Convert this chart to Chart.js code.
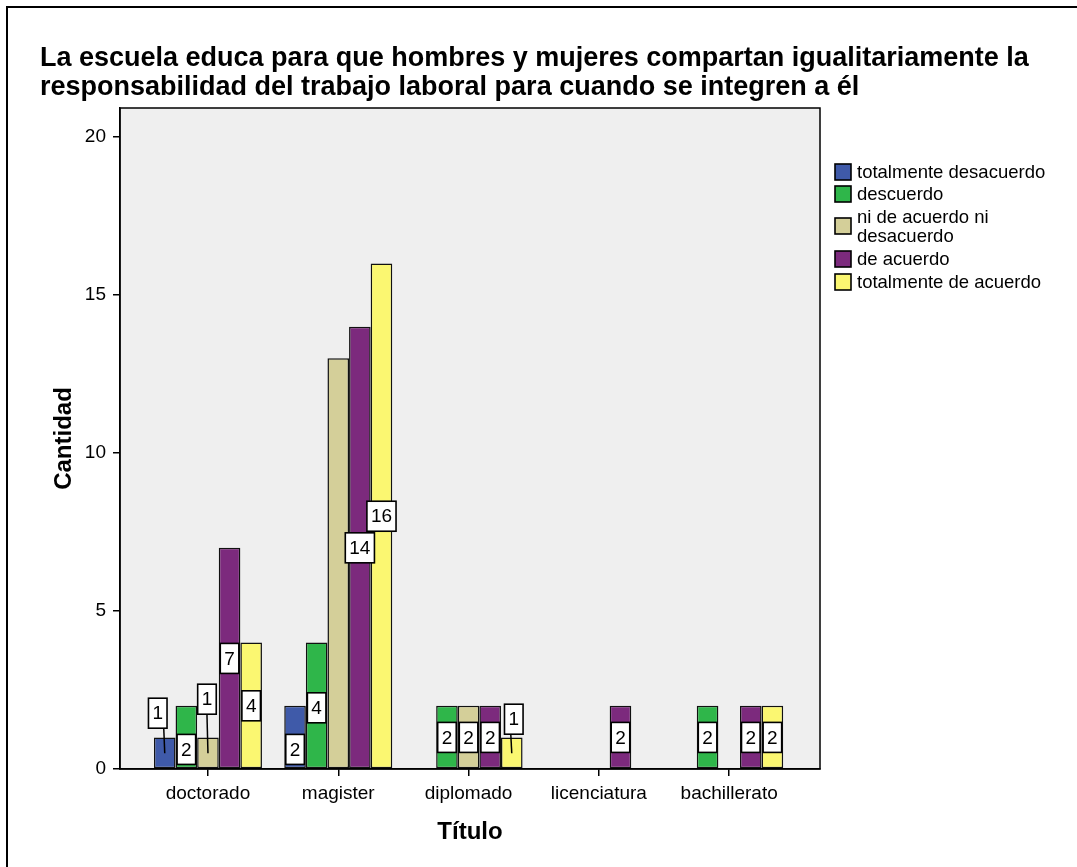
<!DOCTYPE html>
<html><head><meta charset="utf-8">
<script src="https://cdn.jsdelivr.net/npm/chart.js@4.4.1/dist/chart.umd.min.js"></script>
<style>html,body{margin:0;padding:0;background:#fff;overflow:hidden}#wrap{width:1077px;height:867px;position:relative}</style>
</head><body><div id="wrap"><canvas id="c" width="1077" height="867"></canvas></div>
<script>
const titleLines = ["La escuela educa para que hombres y mujeres compartan igualitariamente la",
                    "responsabilidad del trabajo laboral para cuando se integren a él"];
const categories = ["doctorado", "magister", "diplomado", "licenciatura", "bachillerato"];
const seriesNames = ["totalmente desacuerdo", "descuerdo", "ni de acuerdo ni desacuerdo", "de acuerdo", "totalmente de acuerdo"];
const totalmenteDesacuerdo    = [1, 2, null, null, null];
const descuerdo               = [2, 4, 2, null, 2];
const niDeAcuerdoNiDesacuerdo = [1, 13, 2, null, null];
const deAcuerdo               = [7, 14, 2, 2, 2];
const totalmenteDeAcuerdo     = [4, 16, 1, null, 2];
const yTicks = [0, 5, 10, 15, 20];
const xTitle = "Título";
const yTitle = "Cantidad";

const seriesValues = [totalmenteDesacuerdo, descuerdo, niDeAcuerdoNiDesacuerdo, deAcuerdo, totalmenteDeAcuerdo];
const colors = ["#3f5aa9", "#2fb64a", "#d4cf99", "#7c2a7d", "#fbf771"];
const FONT = "'Liberation Sans', Arial, sans-serif";

// label styling: hidden labels and shifted labels (dataset,index) -> [dx, dy, leader]
const hiddenLabels = ["2,1"];
const labelShift = {"0,0": [-7, -40, true], "1,0": [0, 12, false], "2,0": [-1, -54, true],
                    "0,1": [0, 12, false], "1,1": [0, 2, false], "4,2": [2, -34, true]};

const bgPlugin = {
  id: 'bg',
  beforeDraw(chart) {
    const {ctx, chartArea: a} = chart;
    ctx.save();
    ctx.fillStyle = '#fff';
    ctx.fillRect(0, 0, chart.width, chart.height);
    ctx.fillStyle = '#efefef';
    ctx.fillRect(a.left, a.top, a.right - a.left, a.bottom - a.top);
    ctx.strokeStyle = '#000';
    ctx.lineWidth = 2;
    ctx.strokeRect(7, 7, chart.width + 20, chart.height + 20);
    ctx.fillStyle = '#000';
    ctx.font = 'bold 27px ' + FONT;
    ctx.textBaseline = 'alphabetic';
    ctx.fillText(titleLines[0], 40, 66);
    ctx.fillText(titleLines[1], 40, 95);
    ctx.restore();
  },
  afterDatasetsDraw(chart) {
    const {ctx, chartArea: a} = chart;
    ctx.save();
    ctx.strokeStyle = '#000';
    ctx.lineWidth = 1.5;
    ctx.strokeRect(a.left, a.top, a.right - a.left, a.bottom - a.top);
    // value labels
    const yS = chart.scales.y;
    ctx.font = '19px ' + FONT;
    ctx.textAlign = 'center';
    ctx.textBaseline = 'middle';
    chart.data.datasets.forEach((ds, di) => {
      const meta = chart.getDatasetMeta(di);
      ds.data.forEach((pt, i) => {
        if (pt.y == null) return;
        const key = di + ',' + i;
        if (hiddenLabels.includes(key)) return;
        const bar = meta.data[i];
        const mid = yS.getPixelForValue(pt.y / 2);
        const sh = labelShift[key] || [0, 0, false];
        const cx = bar.x + sh[0], cy = mid + sh[1];
        const txt = String(pt.y);
        const w = ctx.measureText(txt).width + 8, h = 30;
        if (sh[2]) {
          ctx.lineWidth = 1.5;
          ctx.beginPath();
          ctx.moveTo(bar.x - 1, cy + h / 2);
          ctx.lineTo(bar.x, mid);
          ctx.stroke();
        }
        ctx.fillStyle = '#fff';
        ctx.fillRect(cx - w / 2, cy - h / 2, w, h);
        ctx.lineWidth = 1.6;
        ctx.strokeRect(cx - w / 2, cy - h / 2, w, h);
        ctx.fillStyle = '#000';
        ctx.fillText(txt, cx, cy + 1);
      });
    });
    // legend
    const lx = 835;
    const rows = [172, 194, 217, 259, 282];
    ctx.textAlign = 'left';
    ctx.font = '18.5px ' + FONT;
    chart.data.datasets.forEach((ds, di) => {
      const words = ds.label.split(' ');
      const lines = [];
      let cur = '';
      words.forEach(wd => {
        const t = cur ? cur + ' ' + wd : wd;
        if (ctx.measureText(t).width > 200 && cur) { lines.push(cur); cur = wd; } else cur = t;
      });
      lines.push(cur);
      const y0 = rows[di];
      const sqc = y0 + (lines.length - 1) * 9;
      ctx.fillStyle = colors[di];
      ctx.fillRect(lx, sqc - 8, 16, 16);
      ctx.lineWidth = 1.6;
      ctx.strokeStyle = '#000';
      ctx.strokeRect(lx, sqc - 8, 16, 16);
      ctx.fillStyle = '#000';
      lines.forEach((ln, k) => ctx.fillText(ln, lx + 22, y0 + k * 19 + 1));
    });
    ctx.restore();
  }
};

new Chart(document.getElementById('c'), {
  type: 'bar',
  data: {
    datasets: seriesValues.map((vals, di) => ({
      label: seriesNames[di],
      data: categories.map((c, i) => ({x: i, y: vals[i]})),
      backgroundColor: colors[di],
      borderColor: '#111',
      borderWidth: 1.5,
      borderSkipped: false,
      categoryPercentage: 0.829,
      barPercentage: 1
    }))
  },
  options: {
    responsive: false,
    animation: false,
    layout: {padding: {top: 108, right: 257, left: 0, bottom: 0}},
    plugins: {legend: {display: false}, tooltip: {enabled: false}, title: {display: false}},
    scales: {
      x: {
        type: 'linear', min: -0.675, max: 4.697, offset: false,
        afterBuildTicks: s => { s.ticks = categories.map((c, i) => ({value: i})); },
        afterFit: s => { s.height = 98; },
        grid: {offset: false, drawOnChartArea: false, drawTicks: true, tickLength: 7, color: '#000', lineWidth: 1.5},
        border: {color: '#000', width: 1.5},
        ticks: {callback: v => categories[v] ?? '', color: '#000', font: {size: 19, family: FONT}, padding: 6, autoSkip: false, maxRotation: 0},
        title: {display: true, text: xTitle, color: '#000', font: {size: 24, weight: 'bold', family: FONT}, padding: {top: 0, bottom: 20}}
      },
      y: {
        min: 0, max: 20.92,
        afterBuildTicks: s => { s.ticks = yTicks.map(v => ({value: v})); },
        afterFit: s => { s.width = 120; },
        grid: {drawOnChartArea: false, drawTicks: true, tickLength: 7, color: '#000', lineWidth: 1.5},
        border: {color: '#000', width: 1.5},
        ticks: {color: '#000', font: {size: 19, family: FONT}, padding: 7},
        title: {display: true, text: yTitle, color: '#000', font: {size: 24, weight: 'bold', family: FONT}, padding: {top: 50, bottom: 0}}
      }
    }
  },
  plugins: [bgPlugin]
});
</script></body></html>
